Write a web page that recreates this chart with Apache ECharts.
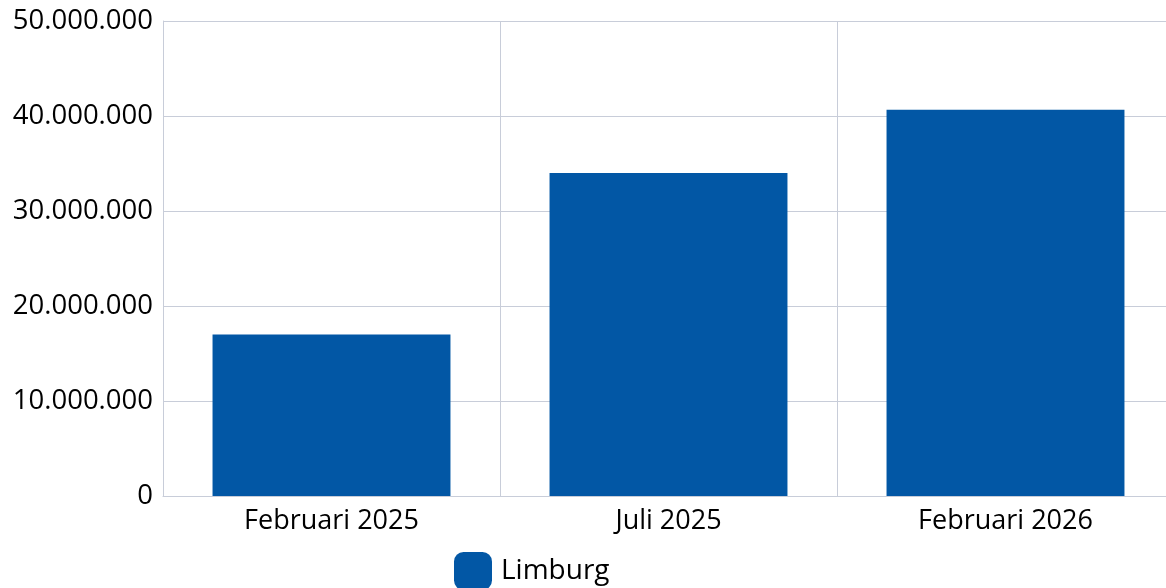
<!DOCTYPE html>
<html>
<head>
<meta charset="utf-8">
<script src="https://cdn.jsdelivr.net/npm/echarts@6/dist/echarts.min.js"></script>
<style>
  html, body { margin: 0; padding: 0; background: #fff; }
  #chart { width: 1166px; height: 588px; }
</style>
</head>
<body>
<div id="chart"></div>
<script>
const categories = ['Februari 2025', 'Juli 2025', 'Februari 2026'];
const seriesName = 'Limburg';
const values = [17000000, 34000000, 40650000];

const fmt = v => String(v).replace(/\B(?=(\d{3})+(?!\d))/g, '.');

const chart = echarts.init(document.getElementById('chart'));
chart.setOption({
  animation: false,
  textStyle: { fontFamily: '"Open Sans", "Noto Sans", sans-serif' },
  grid: {
    left: 163, width: 1011, top: 21, height: 475,
    containLabel: false,
    outerBoundsMode: 'none'
  },
  legend: {
    bottom: -7,
    left: 449,
    itemWidth: 38,
    itemHeight: 38,
    itemGap: 10,
    icon: 'roundRect',
    textStyle: { fontSize: 28, color: '#000', fontFamily: '"Open Sans", sans-serif', padding: [0, 0, 0, 4] },
    data: [seriesName]
  },
  xAxis: {
    type: 'category',
    data: categories,
    axisLine: { show: true, lineStyle: { color: '#c8cdd9' } },
    axisTick: { show: false },
    splitLine: { show: true, lineStyle: { color: '#c8cdd9' } },
    axisLabel: { fontSize: 27, color: '#000', margin: 12 }
  },
  yAxis: {
    type: 'value',
    min: 0,
    max: 50000000,
    interval: 10000000,
    axisLine: { show: true, lineStyle: { color: '#c8cdd9' } },
    axisTick: { show: false },
    splitLine: { lineStyle: { color: '#c8cdd9' } },
    axisLabel: { fontSize: 27.5, color: '#000', margin: 10, formatter: fmt }
  },
  series: [{
    name: seriesName,
    type: 'bar',
    data: values,
    barWidth: '70.6%',
    itemStyle: { color: '#0257a5' }
  }]
});
</script>
</body>
</html>
